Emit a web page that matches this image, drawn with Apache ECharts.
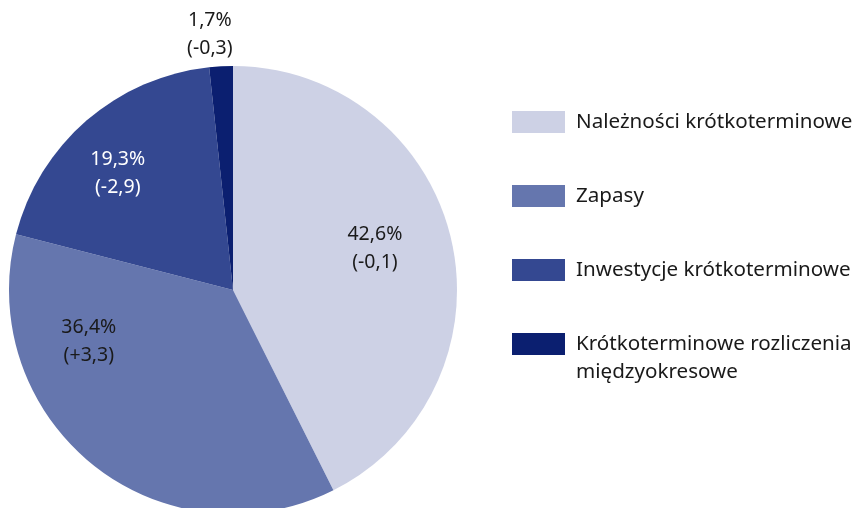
<!DOCTYPE html>
<html>
<head>
<meta charset="utf-8">
<script src="https://cdn.jsdelivr.net/npm/echarts@6/dist/echarts.min.js"></script>
<style>html,body{margin:0;padding:0;background:#fff;}#c{width:854px;height:508px;}</style>
</head>
<body>
<div id="c"></div>
<script>
var categories = ['Należności krótkoterminowe', 'Zapasy', 'Inwestycje krótkoterminowe', 'Krótkoterminowe rozliczenia międzyokresowe'];
var shares = [42.6, 36.4, 19.3, 1.7];
var changes = ['-0,1', '+3,3', '-2,9', '-0,3'];
var colors = ['#cdd1e5', '#6576ae', '#344891', '#0b1f70'];
var labelColors = ['#1a1a1a', '#1a1a1a', '#ffffff', '#1a1a1a'];
var labelOffsets = [[30, -15.5], [-72, -38.5], [-40, -30], [-17, -140.5]];

var FONT = '"Noto Sans", sans-serif';
function fmtNum(v) { return v.toFixed(1).replace('.', ','); }

var data = categories.map(function (name, i) {
  return {
    name: name,
    value: shares[i],
    itemStyle: { color: colors[i] },
    label: {
      color: labelColors[i],
      offset: labelOffsets[i],
      formatter: fmtNum(shares[i]) + '%\n(' + changes[i] + ')'
    }
  };
});

var legendText = { fontFamily: FONT, fontSize: 20.6, color: '#1a1a1a', lineHeight: 28, padding: [0, 0, 0, 6] };

var chart = echarts.init(document.getElementById('c'), null, { renderer: 'canvas' });
chart.setOption({
  animation: false,
  backgroundColor: '#ffffff',
  legend: [{
    orient: 'vertical',
    left: 512,
    top: 108,
    padding: 0,
    itemWidth: 53,
    itemHeight: 22,
    itemGap: 46,
    icon: 'rect',
    selectedMode: false,
    textStyle: legendText,
    data: categories.slice(0, 3)
  }, {
    orient: 'vertical',
    left: 512,
    top: 302,
    padding: 0,
    itemWidth: 53,
    itemHeight: 22,
    icon: 'rect',
    selectedMode: false,
    textStyle: legendText,
    formatter: function () { return '\nKrótkoterminowe rozliczenia\nmiędzyokresowe'; },
    data: categories.slice(3)
  }],
  series: [{
    type: 'pie',
    center: [233, 290],
    radius: 224,
    startAngle: 90,
    clockwise: true,
    avoidLabelOverlap: false,
    label: {
      show: true,
      position: 'inside',
      fontFamily: FONT,
      fontSize: 19.5,
      lineHeight: 28,
      align: 'center'
    },
    labelLine: { show: false },
    emphasis: { disabled: true },
    itemStyle: { borderWidth: 0 },
    data: data
  }]
});
</script>
</body>
</html>
